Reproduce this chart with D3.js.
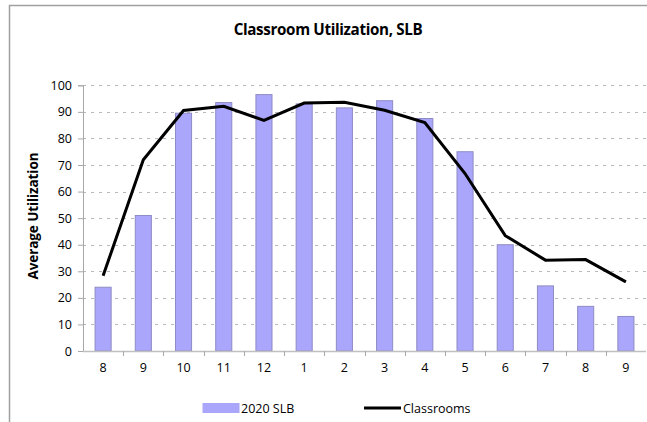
<!DOCTYPE html>
<html><head><meta charset="utf-8">
<script src="https://cdn.jsdelivr.net/npm/d3@7"></script>
<style>body{margin:0;background:#fff}svg{display:block}</style>
</head><body>
<script>
const categories = ["8","9","10","11","12","1","2","3","4","5","6","7","8","9"];
const barValues = [24, 51, 89.5, 93.5, 96.5, 93, 91.5, 94.2, 87.5, 75, 40, 24.5, 16.8, 13];
const lineValues = [28.3, 72, 90.5, 92.1, 86.8, 93.3, 93.6, 90.6, 86, 66.8, 43.4, 34.2, 34.4, 26];
const yTicks = [0,10,20,30,40,50,60,70,80,90,100];
const seriesNames = ["2020 SLB", "Classrooms"];

(function(){
const W = 647, H = 422;
const svg = d3.select("body").append("svg").attr("width", W).attr("height", H);
const font = "'Open Sans', 'DejaVu Sans', sans-serif";

// frame
svg.append("path").attr("d", `M9.5,${H} V5.5 H${W}`).attr("fill","none").attr("stroke","#a0a0a0").attr("stroke-width",1.5);

const pL = 83, pR = 646, pT = 85.3, pB = 351;
const idx = categories.map((d,i)=>i);
const x = d3.scaleBand().domain(idx).range([pL, pR]).paddingInner(0.6).paddingOuter(0.3);
const xb = d3.scaleBand().domain(idx).range([pL, pR]);
const y = d3.scaleLinear().domain([0,100]).range([pB, pT]);

// gridlines
svg.append("g").selectAll("line").data(yTicks.filter(d=>d>0)).join("line")
  .attr("x1", pL).attr("x2", pR)
  .attr("y1", d=>Math.round(y(d))+0.5).attr("y2", d=>Math.round(y(d))+0.5)
  .attr("stroke","#b8b8b8").attr("stroke-dasharray","3,5").attr("stroke-width",1);

// bars
svg.append("g").selectAll("rect").data(barValues).join("rect")
  .attr("x", (d,i)=>x(i)).attr("width", x.bandwidth())
  .attr("y", d=>y(d)).attr("height", d=>y(0)-y(d))
  .attr("fill","#aaa6fb").attr("stroke","#8f8bc4").attr("stroke-width",1);

// y axis
const yAxis = d3.axisLeft(y).tickValues(yTicks).tickSize(5).tickPadding(6);
const gy = svg.append("g").attr("transform",`translate(${pL},0)`).call(yAxis);
gy.select(".domain").attr("stroke","#a8a8a8");
gy.selectAll(".tick line").attr("stroke","#a8a8a8");
gy.selectAll("text").attr("font-family",font).attr("font-size",12.5).attr("fill","#000");

// x axis
const xAxis = d3.axisBottom(xb).tickFormat(i=>categories[i]).tickSize(0).tickPadding(12);
const gx = svg.append("g").attr("transform",`translate(0,${pB})`).call(xAxis);
gx.select(".domain").remove();
gx.selectAll("text").attr("font-family",font).attr("font-size",12.5).attr("fill","#000");
svg.append("line").attr("x1",pL).attr("x2",pR).attr("y1",pB+0.5).attr("y2",pB+0.5).attr("stroke","#c0c0c0").attr("stroke-width",1.5);
svg.append("g").selectAll("line").data(d3.range(1, categories.length)).join("line")
  .attr("x1", i=>Math.round(xb(i))+0.5).attr("x2", i=>Math.round(xb(i))+0.5)
  .attr("y1", pB).attr("y2", pB+5).attr("stroke","#a8a8a8");

// line
const line = d3.line().x((d,i)=>xb(i)+xb.bandwidth()/2).y(d=>y(d));
svg.append("path").datum(lineValues).attr("d", line).attr("fill","none").attr("stroke","#000").attr("stroke-width",3);

// title
svg.append("text").attr("x",328).attr("y",35).attr("text-anchor","middle")
  .attr("font-family","'Open Sans', sans-serif").attr("font-weight","bold").attr("font-size",15.2)
  .attr("letter-spacing","-0.35").text("Classroom Utilization, SLB");

// y label
svg.append("text").attr("transform","translate(38,216) rotate(-90)").attr("text-anchor","middle")
  .attr("font-family","'Open Sans', sans-serif").attr("font-weight","bold").attr("font-size",13.5)
  .attr("letter-spacing","-0.1").text("Average Utilization");

// legend
svg.append("rect").attr("x",203).attr("y",403.5).attr("width",36).attr("height",9).attr("fill","#aaa6fb").attr("stroke","#aaa6fb");
svg.append("text").attr("x",241).attr("y",413).attr("font-family",font).attr("font-size",12.5).text(seriesNames[0]);
svg.append("line").attr("x1",364).attr("x2",401).attr("y1",408).attr("y2",408).attr("stroke","#000").attr("stroke-width",3);
svg.append("text").attr("x",403).attr("y",413).attr("font-family",font).attr("font-size",12.5).text(seriesNames[1]);
})();
</script>
</body></html>
